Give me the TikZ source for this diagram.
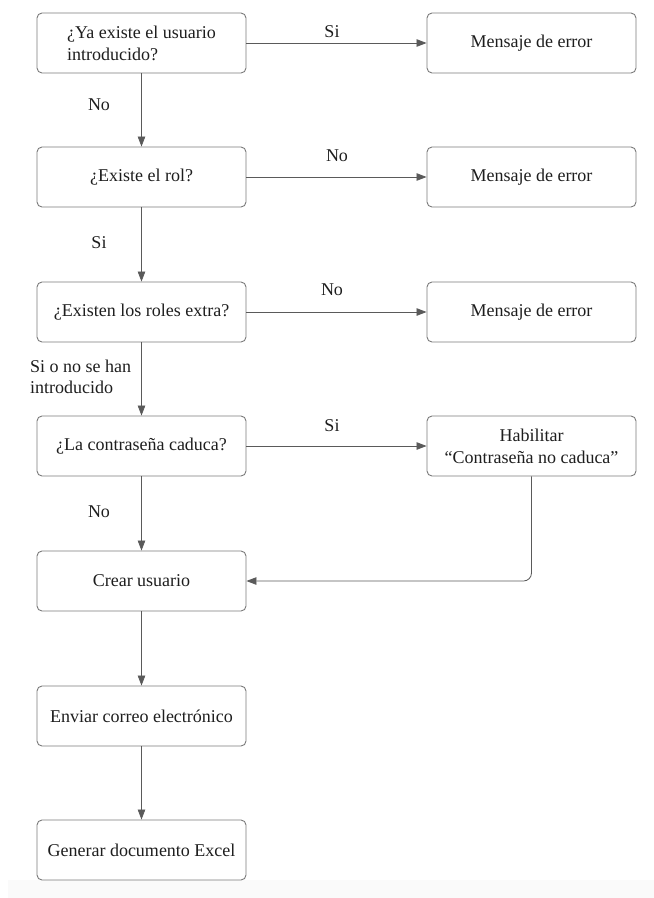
\documentclass[tikz,border=0pt]{standalone}
\usepackage{fontspec}
\setmainfont{Liberation Serif}
\usetikzlibrary{arrows.meta}
\definecolor{boxline}{HTML}{7A7A7A}
\definecolor{conn}{HTML}{5A5A5A}
\definecolor{ink}{HTML}{1E1E1E}
\begin{document}
\begin{tikzpicture}[x=1pt,y=-1pt,
  stepbox/.style={draw=boxline,line width=0.9pt,rounded corners=5pt,fill=white,
    minimum width=209pt,minimum height=60pt,inner sep=0pt,text=ink,
    font=\fontsize{18}{22}\selectfont,align=center},
  lbl/.style={text=ink,font=\fontsize{18}{21}\selectfont,inner sep=0pt},
  flow/.style={draw=conn,line width=0.8pt,-{Triangle[length=10pt,width=7.5pt]}}]
\useasboundingbox (0,0) rectangle (654,898);
\fill[black!2] (8,880) rectangle (654,898);

% main column
\node[stepbox,align=left] (q1) at (141.5,43) {¿Ya existe el usuario\\introducido?};
\node[stepbox] (q2) at (141.5,177) {¿Existe el rol?};
\node[stepbox] (q3) at (141.5,312) {¿Existen los roles extra?};
\node[stepbox] (q4) at (141.5,446) {¿La contraseña caduca?};
\node[stepbox] (crear) at (141.5,581) {Crear usuario};
\node[stepbox] (correo) at (141.5,716) {Enviar correo electrónico};
\node[stepbox] (excel) at (141.5,850) {Generar documento Excel};

% side column
\node[stepbox] (e1) at (531.5,43) {Mensaje de error};
\node[stepbox] (e2) at (531.5,177) {Mensaje de error};
\node[stepbox] (e3) at (531.5,312) {Mensaje de error};
\node[stepbox] (hab) at (531.5,446) {Habilitar\\“Contraseña no caduca”};

% connectors
\draw[flow] (q1) -- (e1);
\draw[flow] (q2) -- (e2);
\draw[flow] (q3) -- (e3);
\draw[flow] (q4) -- (hab);
\draw[flow] (q1) -- (q2);
\draw[flow] (q2) -- (q3);
\draw[flow] (q3) -- (q4);
\draw[flow] (q4) -- (crear);
\draw[flow] (crear) -- (correo);
\draw[flow] (correo) -- (excel);
\draw[flow,rounded corners=8pt] (hab.south) |- (crear.east);

% connector labels
\node[lbl] (l1) at (332,32) {Si};
\node[lbl] (l2) at (337,156) {No};
\node[lbl] (l3) at (332,290) {No};
\node[lbl] (l4) at (332,426) {Si};
\node[lbl] (v1) at (99,105) {No};
\node[lbl] (v2) at (99,243) {Si};
\node[lbl,anchor=west,align=left] (v3) at (30,377) {Si o no se han\\introducido};
\node[lbl] (v4) at (99,512) {No};
\end{tikzpicture}
\end{document}
